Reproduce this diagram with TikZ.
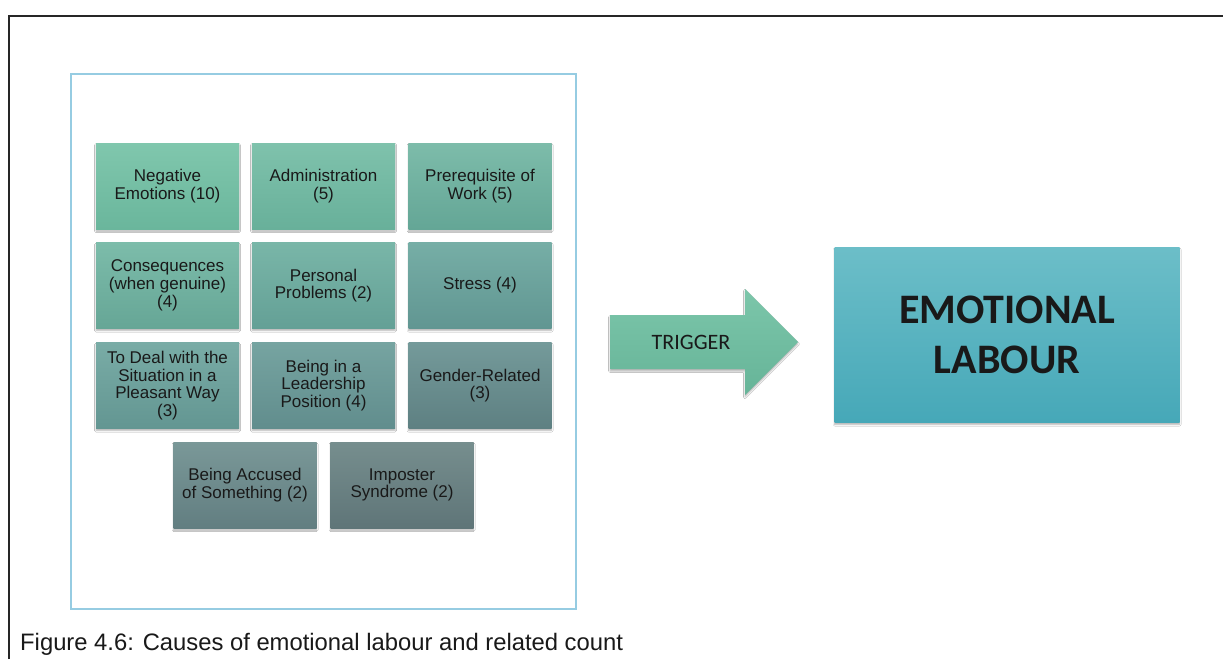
\documentclass[tikz,border=0pt]{standalone}
\usepackage{fontspec}
\setmainfont{Liberation Sans}
\newfontfamily\calibri{Carlito}
\usetikzlibrary{shadows.blur}

\definecolor{frameblue}{RGB}{150,204,226}
\definecolor{inktext}{RGB}{25,25,25}
% tile gradients, from the top-left tile to the bottom row
\definecolor{tAt}{RGB}{128,199,173}\definecolor{tAb}{RGB}{106,182,156}
\definecolor{tBt}{RGB}{127,194,172}\definecolor{tBb}{RGB}{104,176,154}
\definecolor{tCt}{RGB}{125,188,170}\definecolor{tCb}{RGB}{100,166,150}
\definecolor{tDt}{RGB}{124,188,170}\definecolor{tDb}{RGB}{102,166,150}
\definecolor{tEt}{RGB}{121,182,168}\definecolor{tEb}{RGB}{100,160,150}
\definecolor{tFt}{RGB}{118,174,166}\definecolor{tFb}{RGB}{97,150,146}
\definecolor{tGt}{RGB}{121,172,166}\definecolor{tGb}{RGB}{99,150,146}
\definecolor{tHt}{RGB}{118,164,161}\definecolor{tHb}{RGB}{97,141,141}
\definecolor{tIt}{RGB}{116,154,154}\definecolor{tIb}{RGB}{94,128,130}
\definecolor{tJt}{RGB}{122,152,152}\definecolor{tJb}{RGB}{98,126,129}
\definecolor{tKt}{RGB}{118,142,142}\definecolor{tKb}{RGB}{95,117,120}
\definecolor{arrowtop}{RGB}{124,198,170}
\definecolor{arrowbot}{RGB}{102,180,152}
\definecolor{boxtop}{RGB}{108,190,200}
\definecolor{boxbot}{RGB}{70,168,184}

\tikzset{
  softshadow/.style={blur shadow={shadow xshift=0pt, shadow yshift=-2pt,
      shadow blur radius=1.5pt, shadow opacity=30}},
  tile/.style={minimum width=143, minimum height=86, inner sep=0pt,
    align=center, text=inktext, font=\fontsize{17}{17.8}\selectfont, softshadow},
  shade/.style 2 args={top color=#1, bottom color=#2},
}

\begin{document}
\begin{tikzpicture}[x=1pt,y=-1pt]
\useasboundingbox (0,0) rectangle (1223,659);
\fill[white] (0,0) rectangle (1223,659);

% page frame
\draw[line width=2pt, black!85] (9,659) -- (9,16) -- (1223,16);

% container of the causes
\draw[frameblue, line width=2.5pt] (71,74) rectangle (576,609);

% causes
\node[tile, shade={tAt}{tAb}] (negemo)  at (167.5,186) {Negative\\Emotions (10)};
\node[tile, shade={tBt}{tBb}] (admin)   at (323.5,186) {Administration\\(5)};
\node[tile, shade={tCt}{tCb}] (prereq)  at (480,186)   {Prerequisite of\\Work (5)};
\node[tile, shade={tDt}{tDb}] (conseq)  at (167.5,285.5) {Consequences\\(when genuine)\\(4)};
\node[tile, shade={tEt}{tEb}] (personal) at (323.5,285.5) {Personal\\Problems (2)};
\node[tile, shade={tFt}{tFb}] (stress)  at (480,285.5) {Stress (4)};
\node[tile, shade={tGt}{tGb}] (deal)    at (167.5,385.5) {To Deal with the\\Situation in a\\Pleasant Way\\(3)};
\node[tile, shade={tHt}{tHb}] (leader)  at (323.5,385.5) {Being in a\\Leadership\\Position (4)};
\node[tile, shade={tIt}{tIb}] (gender)  at (480,385.5) {Gender-Related\\(3)};
\node[tile, shade={tJt}{tJb}] (accused) at (245,485) {Being Accused\\of Something (2)};
\node[tile, shade={tKt}{tKb}] (imposter) at (402,485) {Imposter\\Syndrome (2)};

% trigger arrow
\path[top color=arrowtop, bottom color=arrowbot, softshadow]
  (610,315) -- (745,315) -- (745,289) -- (798,342) -- (745,395) -- (745,369) -- (610,369) -- cycle;
\node[text=inktext, font=\calibri\fontsize{22}{24}\selectfont, inner sep=0pt] (trigger) at (691,342) {TRIGGER};

% outcome
\node[minimum width=345, minimum height=175, inner sep=0pt, align=center,
      shade={boxtop}{boxbot}, text=inktext,
      font=\calibri\bfseries\fontsize{42}{50}\selectfont, softshadow]
  (labour) at (1007,335) {EMOTIONAL\\LABOUR};

% caption
\node[anchor=base west, inner sep=0pt, text=black!90, font=\fontsize{23.8}{26}\selectfont]
  (caption) at (20,650) {Figure 4.6: Causes of emotional labour and related count};
\end{tikzpicture}
\end{document}
